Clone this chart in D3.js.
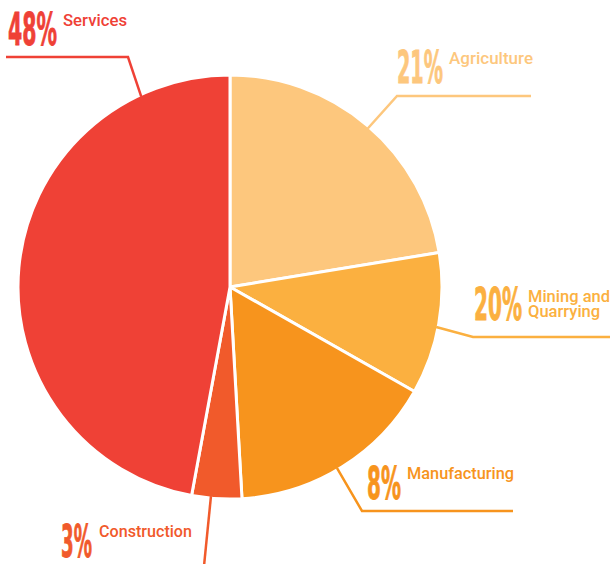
<!DOCTYPE html>
<html>
<head>
<meta charset="utf-8">
<script src="https://cdn.jsdelivr.net/npm/d3@7"></script>
<style>
  html, body { margin: 0; padding: 0; background: #fff; }
  svg { display: block; }
</style>
</head>
<body>
<div id="chart"></div>
<script>
// Slice shares as drawn in the picture (the printed labels do not match the geometry)
const sectors = ["Agriculture", "Mining and Quarrying", "Manufacturing", "Construction", "Services"];
const sliceValues = [22.4, 10.8, 15.9, 3.8, 47.1];
const percentLabels = ["21%", "20%", "8%", "3%", "48%"];
const nameLines = [["Agriculture"], ["Mining and", "Quarrying"], ["Manufacturing"], ["Construction"], ["Services"]];

const COLOURS = ["#fdc77d", "#fbb040", "#f7941d", "#f15a2b", "#ef4136"];

const width = 613, height = 564;
const cx = 230, cy = 287, radius = 212;

// label layout: pct box, name box, leader (angle on rim in degrees, elbow, end)
const layout = [
  {pct: {x: 397, y: 83, w: 46}, name: {x: 449, y: 64, w: 84}, leader: {angle: 41, pts: [[397, 96], [531, 96]]}},
  {pct: {x: 474, y: 320, w: 48}, name: {x: 528, y: 302, w: 82, lh: 15}, leader: {angle: 101, pts: [[473, 337], [610, 337]]}},
  {pct: {x: 367, y: 499, w: 34}, name: {x: 407, y: 479, w: 107}, leader: {angle: 149.4, pts: [[362, 511], [513, 511]]}},
  {pct: {x: 61, y: 557, w: 31}, name: {x: 99, y: 537, w: 93}, leader: {angle: 185.2, pts: [[204, 566]]}},
  {pct: {x: 8, y: 45, w: 49}, name: {x: 63, y: 26, w: 64}, leader: {angle: 335, pts: [[128, 57], [6, 57]]}}
];

const svg = d3.select("#chart")
    .append("svg")
    .attr("width", width)
    .attr("height", height);

const data = sectors.map((s, i) => ({sector: s, value: sliceValues[i], i}));

const pie = d3.pie()
    .value(d => d.value)
    .sort(null)
    .startAngle(0)
    .endAngle(2 * Math.PI);

const arc = d3.arc()
    .innerRadius(0)
    .outerRadius(radius);

const g = svg.append("g")
    .attr("transform", `translate(${cx},${cy})`);

g.selectAll(".slice")
    .data(pie(data))
    .enter()
    .append("path")
    .attr("class", "slice")
    .attr("d", arc)
    .attr("fill", d => COLOURS[d.data.i])
    .attr("stroke", "#fff")
    .attr("stroke-width", 3)
    .attr("stroke-linejoin", "round");

// Leader lines
const line = d3.line();
layout.forEach((l, i) => {
    const a = l.leader.angle * Math.PI / 180;
    const start = [cx + (radius - 2) * Math.sin(a), cy - (radius - 2) * Math.cos(a)];
    svg.append("path")
        .attr("d", line([start, ...l.leader.pts]))
        .attr("fill", "none")
        .attr("stroke", COLOURS[i])
        .attr("stroke-width", 2.5);
});

// Labels
layout.forEach((l, i) => {
    svg.append("text")
        .attr("x", l.pct.x)
        .attr("y", l.pct.y)
        .attr("textLength", l.pct.w)
        .attr("lengthAdjust", "spacingAndGlyphs")
        .style("font-family", "'Liberation Sans Narrow', 'DejaVu Sans Condensed', sans-serif")
        .style("font-weight", "bold")
        .style("font-size", "44px")
        .attr("fill", COLOURS[i])
        .attr("stroke", COLOURS[i])
        .attr("stroke-width", 0.8)
        .text(percentLabels[i]);

    nameLines[i].forEach((t, j) => {
        svg.append("text")
            .attr("x", l.name.x)
            .attr("y", l.name.y + j * (l.name.lh || 0))
            .attr("textLength", j === 0 ? l.name.w : l.name.w * 0.88)
            .attr("lengthAdjust", "spacingAndGlyphs")
            .style("font-family", "Roboto, 'Noto Sans', sans-serif")
            .style("font-weight", 500)
            .style("font-size", "17px")
            .attr("fill", COLOURS[i])
            .text(t);
    });
});
</script>
</body>
</html>
